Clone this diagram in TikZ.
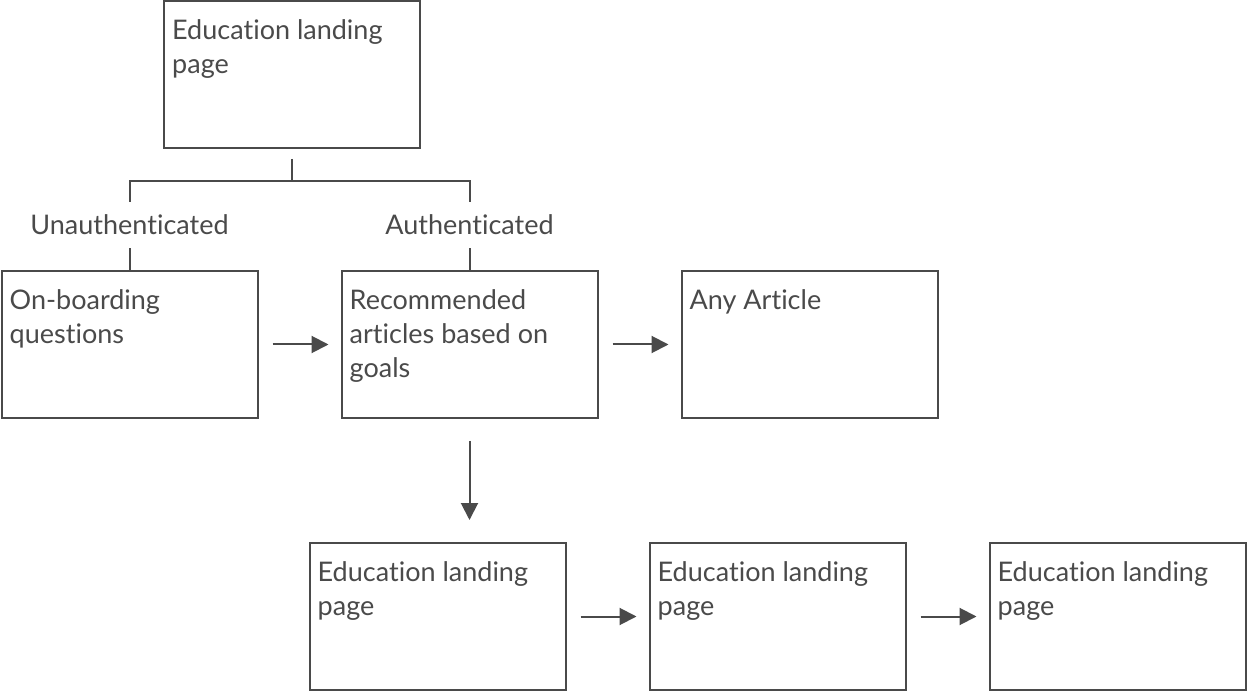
\documentclass[tikz,border=0pt]{standalone}
\usepackage{fontspec}
\setmainfont{Lato}[Ligatures=NoCommon]
\usetikzlibrary{arrows.meta,calc}
\definecolor{ink}{HTML}{4A4A4A}
\tikzset{
	page/.style={draw=ink, line width=2pt, minimum width=256pt, minimum height=147pt, inner sep=0},
	txt/.style={anchor=north west, align=left, inner sep=0, text=ink, xshift=9pt, yshift=-19pt,
		font=\fontsize{27}{34}\selectfont},
	tag/.style={text=ink, inner sep=0, minimum height=46pt, font=\fontsize{27}{34}\selectfont},
	link/.style={draw=ink, line width=2pt},
	flow/.style={link, -{Triangle[length=17pt,width=17pt]}}
}
\begin{document}
\begin{tikzpicture}[x=1pt, y=-1pt]
		\useasboundingbox (0,0) rectangle (1248,692);
		\node [page] (top) at (292,74.5) {};
		\node [page] (board) at (129.5,344.5) {};
		\node [page] (recom) at (469.5,344.5) {};
		\node [page] (any) at (809.5,344.5) {};
		\node [page] (land1) at (437.5,616.5) {};
		\node [page] (land2) at (777.5,616.5) {};
		\node [page] (land3) at (1117.5,616.5) {};
		% box texts
		\node [txt] (top-t) at (top.north west) {Education landing\\page};
		\node [txt] (board-t) at (board.north west) {On-boarding\\questions};
		\node [txt] (recom-t) at (recom.north west) {Recommended\\articles based on\\goals};
		\node [txt] (any-t) at (any.north west) {Any Article};
		\node [txt] (land1-t) at (land1.north west) {Education landing\\page};
		\node [txt] (land2-t) at (land2.north west) {Education landing\\page};
		\node [txt] (land3-t) at (land3.north west) {Education landing\\page};
		% branch labels
		\node [tag] (unauth) at (129.5,225) {Unauthenticated};
		\node [tag] (auth) at (469.5,225) {Authenticated};
		\coordinate (fork) at ($(top.south)+(0,10)$);
		\path [link]
					(fork) -- ++(0,22) -| (unauth.north)
					(fork) ++(0,22) -| (auth.north)
					(unauth.south) -- (board.north)
					(auth.south) -- (recom.north);
		\coordinate (down) at ($(recom.south)+(0,101)$);
		\path [flow]
					([xshift=14pt]board.east) -- ([xshift=-12pt]recom.west);
		\path [flow]
					([xshift=14pt]recom.east) -- ([xshift=-12pt]any.west);
		\path [flow]
					($(recom.south)+(0,22)$) -- (down);
		\path [flow]
					([xshift=14pt]land1.east) -- ([xshift=-12pt]land2.west);
		\path [flow]
					([xshift=14pt]land2.east) -- ([xshift=-12pt]land3.west);
\end{tikzpicture}
\end{document}
